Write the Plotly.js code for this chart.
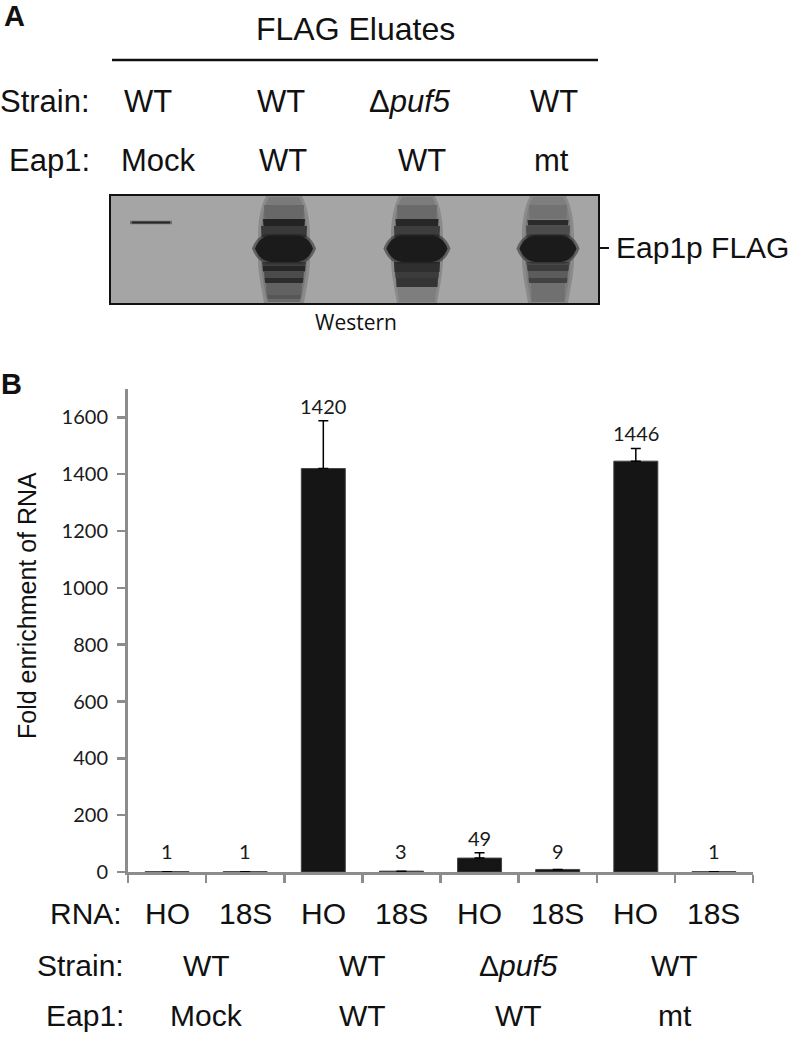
<!DOCTYPE html>
<html>
<head>
<meta charset="utf-8">
<script src="https://cdn.plot.ly/plotly-3.0.1.min.js"></script>
<style>html,body{margin:0;padding:0;background:#fff;}</style>
</head>
<body>
<div id="chart" style="width:800px;height:1055px;"></div>
<script>
// ---------- data ----------
const rnaLabels = ['HO', '18S', 'HO', '18S', 'HO', '18S', 'HO', '18S'];
const foldEnrichment = [1, 1, 1420, 3, 49, 9, 1446, 1];
const errorUp = [0, 0, 168, 0, 19, 0, 45, 0];
const errorDown = [8, 8, 0, 0, 0, 0, 0, 8];
const valueLabels = ['1', '1', '1420', '3', '49', '9', '1446', '1'];
const strainLabels = ['WT', 'WT', 'Δ<i>puf5</i>', 'WT'];
const eap1Labels = ['Mock', 'WT', 'WT', 'mt'];
const yTickValues = [0, 200, 400, 600, 800, 1000, 1200, 1400, 1600];
const blotStrainLabels = ['WT', 'WT', 'Δ<i>puf5</i>', 'WT'];
const blotEap1Labels = ['Mock', 'WT', 'WT', 'mt'];

// ---------- style / layout constants ----------
const W = 800, H = 1055;
const FONT = 'Liberation Sans, Arial, sans-serif';
const NUMFONT = 'Lato, Calibri, sans-serif';
const AXIS_GREY = '#8c8c8c';
const plotLeft = 128, plotRight = 753, plotTop = 389, plotBottom = 872;
const labelFloor = 20;

const idx = foldEnrichment.map((_, i) => i);
const boundaries = Array.from({length: foldEnrichment.length + 1}, (_, i) => i - 0.5);

const annotations = [];
const shapes = [];
function txt(text, x, y, size, opts) {
  annotations.push(Object.assign({
    text: text, x: x, y: y, xref: 'x2', yref: 'y2', showarrow: false,
    xanchor: 'center', yanchor: 'middle',
    font: {family: FONT, size: size, color: '#111'}
  }, opts || {}));
}
function P(path, fill) {
  shapes.push({type: 'path', xref: 'x2', yref: 'y2', path: path, layer: 'above',
    fillcolor: fill, line: {width: 0}});
}
function strip(cx, y0, y1, hw, fill) {
  P(`M ${cx-hw},${y0} L ${cx+hw},${y0} L ${cx+hw-0.5},${y1} L ${cx-hw+0.5},${y1} Z`, fill);
}

// ---------- Panel A ----------
txt('<b>A</b>', 14, 16, 29);
txt('FLAG Eluates', 355, 29, 32);
shapes.push({type: 'line', xref: 'x2', yref: 'y2', x0: 112, x1: 598, y0: 60, y1: 60,
  line: {color: '#111', width: 2.5}, layer: 'above'});
txt('Strain:', 92, 101, 31, {xanchor: 'right'});
txt('Eap1:', 92, 160, 31, {xanchor: 'right'});
const blotStrainX = [148, 281, 410, 554];
const blotEap1X = [158, 283, 422, 551];
blotStrainLabels.forEach((t, i) => txt(t, blotStrainX[i], 101, 31));
blotEap1Labels.forEach((t, i) => txt(t, blotEap1X[i], 160, 31));

// blot background
shapes.push({type: 'rect', xref: 'x2', yref: 'y2', x0: 110, x1: 599, y0: 195, y1: 304,
  fillcolor: '#a5a5a5', line: {color: '#111', width: 2}, layer: 'above'});
// mock lane thin band
shapes.push({type: 'line', xref: 'x2', yref: 'y2', x0: 130, x1: 172, y0: 222.5, y1: 222.5,
  line: {color: 'rgba(40,40,40,0.45)', width: 3.5}, layer: 'above'});
shapes.push({type: 'line', xref: 'x2', yref: 'y2', x0: 132, x1: 170, y0: 222.5, y1: 222.5,
  line: {color: '#262626', width: 1.8}, layer: 'above'});

function blob(cx, hw, fill, grow) {
  const g = grow || 0, a = cx - hw - g, b = cx + hw + g, t = 235.5 - g, u = 262 + g;
  P(`M ${a},248.5 C ${a+3},240 ${a+9},${t+0.5} ${a+16},${t} L ${b-16},${t} ` +
    `C ${b-9},${t+0.5} ${b-3},240 ${b},248.5 C ${b-3},257 ${b-9},${u-0.5} ${b-16},${u} ` +
    `L ${a+16},${u} C ${a+9},${u-0.5} ${a+3},257 ${a},248.5 Z`, fill);
}
function lane(cx, hw, smearFill, strips) {
  // soft halo + smear outline
  P(`M ${cx-18},196 L ${cx+18},196 C ${cx+23},205 ${cx+26},220 ${cx+26},236 L ${cx+26},262 ` +
    `C ${cx+25},280 ${cx+21},295 ${cx+20},303 L ${cx-20},303 C ${cx-21},295 ${cx-25},280 ${cx-26},262 ` +
    `L ${cx-26},236 C ${cx-26},220 ${cx-23},205 ${cx-18},196 Z`, 'rgba(90,90,90,0.35)');
  P(`M ${cx-15},197 L ${cx+15},197 C ${cx+20},205 ${cx+23},220 ${cx+23},236 L ${cx+23},262 ` +
    `C ${cx+22},280 ${cx+18},295 ${cx+17},302 L ${cx-17},302 C ${cx-18},295 ${cx-22},280 ${cx-23},262 ` +
    `L ${cx-23},236 C ${cx-23},220 ${cx-20},205 ${cx-15},197 Z`, smearFill);
  strips.forEach(s => strip(cx, s[0], s[1], s[2], s[3]));
  blob(cx, hw + 1.5, 'rgba(30,30,30,0.5)', 1.5);
  blob(cx, hw, '#1b1b1b');
}
lane(284, 29, '#7a7a7a', [
  [205, 219, 20, '#686868'], [219, 226, 21, '#232323'], [226, 237, 23, '#393939'],
  [262, 265.5, 22, '#3b3b3b'], [265.5, 271.5, 21.5, '#262626'], [271.5, 278, 20, '#4b4b4b'],
  [278, 283, 19.5, '#2c2c2c'], [283, 295, 18, '#626262'], [295, 299, 17, '#575757'],
  [299, 302, 16, '#6c6c6c']]);
lane(417, 30.5, '#7c7c7c', [
  [205, 219, 20, '#6a6a6a'], [219, 226, 21.5, '#272727'], [226, 237, 23, '#3d3d3d'],
  [262, 272, 23, '#2f2f2f'], [272, 278, 22, '#3c3c3c'], [278, 287, 21, '#343434'],
  [287, 302, 18.5, '#7e7e7e']]);
lane(548, 28.5, '#7e7e7e', [
  [205, 219, 19, '#727272'], [220, 225.5, 20.5, '#2b2b2b'], [225.5, 237, 22, '#4c4c4c'],
  [262, 265, 22, '#4a4a4a'], [265, 271, 21, '#3b3b3b'], [271, 278, 20, '#5c5c5c'],
  [278, 283, 19.5, '#424242'], [283, 302, 17, '#707070']]);

shapes.push({type: 'line', xref: 'x2', yref: 'y2', x0: 599, x1: 609, y0: 248, y1: 248,
  line: {color: '#111', width: 2}, layer: 'above'});
txt('Eap1p FLAG', 614, 247, 30, {xanchor: 'left'});
txt('Western', 356, 322, 21, {font: {family: 'Open Sans, sans-serif', size: 21, color: '#111'}});

// ---------- Panel B ----------
txt('<b>B</b>', 11, 384, 29);
txt('Fold enrichment of RNA', 27, 606, 25, {textangle: -90});

txt('RNA:', 124, 913, 30, {xanchor: 'right'});
txt('Strain:', 126, 965, 30, {xanchor: 'right'});
txt('Eap1:', 126, 1015, 30, {xanchor: 'right'});
rnaLabels.forEach((t, i) => annotations.push({text: t, x: i, y: 913, xref: 'x', yref: 'y2',
  showarrow: false, font: {family: FONT, size: 30, color: '#111'}}));
strainLabels.forEach((t, g) => annotations.push({text: t, x: 2 * g + 0.5, y: 965, xref: 'x', yref: 'y2',
  showarrow: false, font: {family: FONT, size: 30, color: '#111'}}));
eap1Labels.forEach((t, g) => annotations.push({text: t, x: 2 * g + 0.5, y: 1015, xref: 'x', yref: 'y2',
  showarrow: false, font: {family: FONT, size: 30, color: '#111'}}));

valueLabels.forEach((t, i) => annotations.push({text: t, x: i,
  y: Math.max(foldEnrichment[i] + errorUp[i], labelFloor), xref: 'x', yref: 'y',
  yshift: 15, showarrow: false, yanchor: 'middle',
  font: {family: NUMFONT, size: 20, color: '#1a1a1a'}}));

const traces = [
  {type: 'bar', x: idx, y: foldEnrichment, hoverinfo: 'skip', cliponaxis: false,
   marker: {color: '#151515', line: {color: '#444', width: 1}},
   error_y: {type: 'data', symmetric: false, array: errorUp, arrayminus: errorDown,
     color: '#000', thickness: 1.5, width: 5}},
  {type: 'scatter', x: [], y: [], xaxis: 'x2', yaxis: 'y2', hoverinfo: 'skip', showlegend: false}
];

const layout = {
  width: W, height: H, margin: {l: 0, r: 0, t: 0, b: 0},
  paper_bgcolor: '#ffffff', plot_bgcolor: 'rgba(0,0,0,0)',
  showlegend: false, bargap: 0.437,
  font: {family: FONT, color: '#111'},
  xaxis: {domain: [plotLeft / W, plotRight / W], range: [-0.5, 7.5], anchor: 'y',
    tickmode: 'array', tickvals: boundaries, ticks: 'outside', ticklen: 8, tickwidth: 2.5,
    tickcolor: AXIS_GREY, showticklabels: false, showline: true, linecolor: AXIS_GREY,
    linewidth: 3, showgrid: false, zeroline: false, fixedrange: true},
  yaxis: {domain: [1 - plotBottom / H, 1 - plotTop / H], range: [0, 1700], anchor: 'x',
    tickmode: 'array', tickvals: yTickValues, ticks: 'outside', ticklen: 8, tickwidth: 2.5,
    tickcolor: AXIS_GREY, showline: true, linecolor: AXIS_GREY, linewidth: 3,
    showgrid: false, zeroline: false, fixedrange: true, ticklabelstandoff: 5,
    tickfont: {family: NUMFONT, size: 20, color: '#1a1a1a'}},
  xaxis2: {domain: [0, 1], range: [0, W], visible: false, anchor: 'y2', fixedrange: true},
  yaxis2: {domain: [0, 1], range: [H, 0], visible: false, anchor: 'x2', fixedrange: true},
  annotations: annotations,
  shapes: shapes
};

Plotly.newPlot('chart', traces, layout, {staticPlot: true, displayModeBar: false});
</script>
</body>
</html>
